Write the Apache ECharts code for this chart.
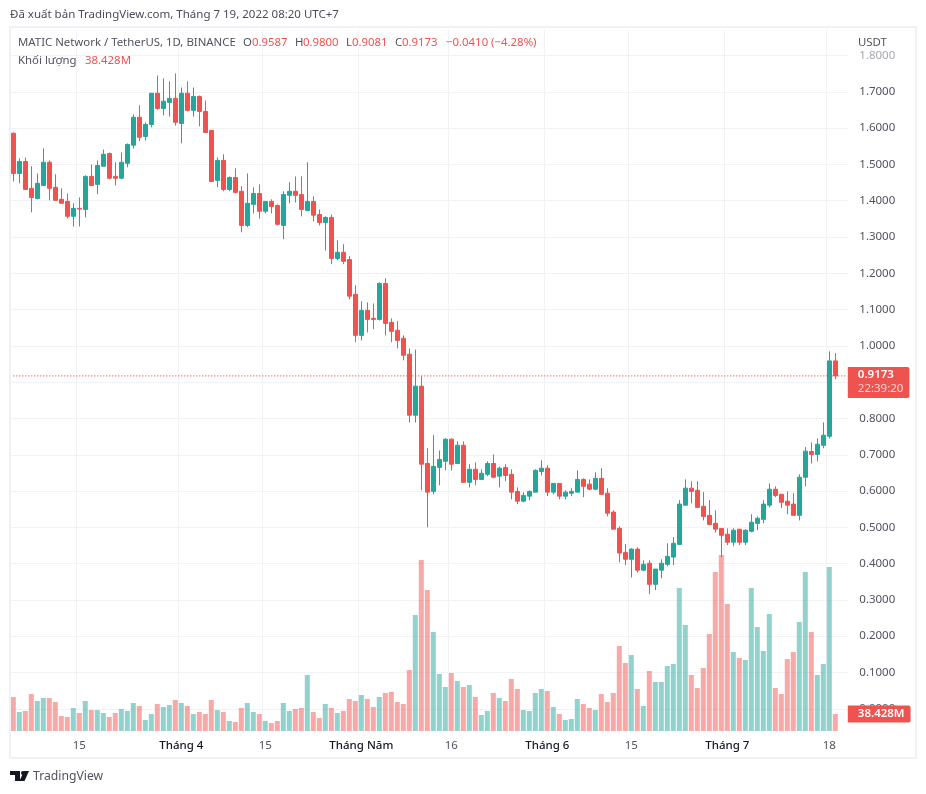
<!DOCTYPE html>
<html>
<head>
<meta charset="utf-8">
<style>html,body{margin:0;background:#fff}#main{width:926px;height:794px}</style>
<script src="https://cdn.jsdelivr.net/npm/echarts@6/dist/echarts.min.js"></script>
</head>
<body>
<div id="main"></div>
<script>
// nến ngày MATIC/USDT, 4/3 -> 19/7/2022
const opens = [
  1.586,1.475,1.508,1.434,1.406,1.442,1.506,1.437,1.404,1.398,
  1.357,1.379,1.376,1.467,1.445,1.495,1.530,1.467,1.462,1.503,
  1.553,1.630,1.577,1.610,1.696,1.654,1.671,1.682,1.613,1.696,
  1.649,1.687,1.646,1.594,1.456,1.511,1.431,1.464,1.426,1.332,
  1.390,1.420,1.371,1.398,1.387,1.332,1.415,1.426,1.417,1.373,
  1.398,1.362,1.340,1.354,1.241,1.258,1.238,1.142,1.029,1.098,
  1.076,1.073,1.172,1.065,1.043,1.021,0.977,0.809,0.889,0.676,
  0.599,0.665,0.682,0.743,0.676,0.726,0.624,0.660,0.632,0.646,
  0.676,0.641,0.665,0.646,0.599,0.572,0.586,0.597,0.654,0.663,
  0.597,0.621,0.586,0.594,0.597,0.632,0.619,0.605,0.635,0.594,
  0.542,0.497,0.431,0.412,0.440,0.382,0.401,0.343,0.382,0.398,
  0.418,0.453,0.561,0.608,0.602,0.558,0.533,0.511,0.497,0.481,
  0.459,0.495,0.459,0.489,0.511,0.522,0.561,0.605,0.591,0.572,
  0.564,0.533,0.638,0.709,0.701,0.726,0.751,0.9587
];
const closes = [
  1.475,1.508,1.431,1.409,1.448,1.506,1.434,1.401,1.393,1.357,
  1.379,1.377,1.467,1.442,1.497,1.528,1.462,1.462,1.506,1.555,
  1.630,1.575,1.610,1.696,1.654,1.674,1.682,1.616,1.696,1.649,
  1.687,1.646,1.588,1.453,1.511,1.431,1.464,1.423,1.332,1.393,
  1.420,1.371,1.398,1.384,1.335,1.417,1.426,1.415,1.376,1.398,
  1.360,1.340,1.354,1.241,1.258,1.233,1.137,1.029,1.098,1.073,
  1.073,1.172,1.062,1.040,1.015,0.974,0.809,0.889,0.674,0.597,
  0.668,0.687,0.743,0.674,0.726,0.624,0.660,0.632,0.649,0.676,
  0.638,0.663,0.643,0.597,0.572,0.588,0.599,0.657,0.663,0.597,
  0.621,0.586,0.597,0.599,0.632,0.613,0.605,0.635,0.591,0.539,
  0.495,0.429,0.412,0.440,0.382,0.398,0.343,0.385,0.401,0.420,
  0.456,0.564,0.608,0.599,0.555,0.530,0.508,0.495,0.478,0.459,
  0.492,0.459,0.492,0.514,0.525,0.564,0.605,0.588,0.569,0.561,
  0.533,0.638,0.710,0.701,0.729,0.754,0.9587,0.9173
];
const lows = [
  1.453,1.448,1.431,1.368,1.404,1.442,1.401,1.401,1.393,1.351,
  1.329,1.329,1.354,1.442,1.418,1.495,1.459,1.442,1.459,1.492,
  1.544,1.564,1.566,1.602,1.651,1.635,1.632,1.607,1.558,1.646,
  1.632,1.605,1.588,1.453,1.437,1.426,1.426,1.420,1.313,1.327,
  1.365,1.351,1.365,1.365,1.332,1.294,1.393,1.395,1.357,1.371,
  1.343,1.332,1.263,1.225,1.236,1.225,1.128,1.010,1.015,1.037,
  1.046,1.070,1.029,1.010,0.993,0.960,0.789,0.789,0.602,0.500,
  0.591,0.616,0.657,0.657,0.674,0.624,0.610,0.616,0.632,0.641,
  0.635,0.610,0.627,0.577,0.564,0.569,0.575,0.597,0.643,0.586,
  0.591,0.577,0.577,0.586,0.597,0.583,0.602,0.602,0.591,0.530,
  0.495,0.404,0.396,0.362,0.376,0.379,0.316,0.327,0.360,0.393,
  0.396,0.453,0.561,0.566,0.555,0.519,0.506,0.486,0.418,0.451,
  0.448,0.451,0.451,0.486,0.492,0.511,0.555,0.583,0.553,0.536,
  0.533,0.519,0.613,0.676,0.682,0.718,0.745,0.9081
];
const highs = [
  1.588,1.517,1.519,1.495,1.475,1.544,1.511,1.473,1.434,1.420,
  1.393,1.409,1.470,1.500,1.511,1.541,1.533,1.506,1.533,1.558,
  1.638,1.663,1.616,1.696,1.745,1.737,1.729,1.751,1.712,1.729,
  1.712,1.690,1.676,1.594,1.519,1.528,1.467,1.489,1.440,1.475,
  1.437,1.445,1.398,1.404,1.390,1.426,1.451,1.467,1.467,1.506,
  1.412,1.376,1.357,1.362,1.291,1.280,1.247,1.167,1.123,1.120,
  1.117,1.175,1.186,1.076,1.068,1.029,0.993,0.990,0.916,0.718,
  0.754,0.712,0.745,0.745,0.737,0.737,0.674,0.679,0.660,0.682,
  0.701,0.668,0.674,0.660,0.610,0.597,0.602,0.660,0.685,0.671,
  0.621,0.621,0.602,0.608,0.657,0.635,0.632,0.652,0.663,0.608,
  0.547,0.503,0.454,0.442,0.445,0.409,0.409,0.385,0.412,0.456,
  0.473,0.575,0.632,0.627,0.627,0.597,0.575,0.547,0.497,0.497,
  0.497,0.495,0.495,0.536,0.530,0.575,0.621,0.613,0.591,0.599,
  0.594,0.646,0.721,0.734,0.745,0.789,0.985,0.980
];
// khối lượng, triệu
const volumes = [
  76.9,42.9,45.2,83.6,67.8,74.6,74.6,65.6,33.9,31.6,
  52.0,40.7,67.8,47.5,47.5,40.7,31.6,40.7,49.7,45.2,
  63.3,56.5,24.9,38.4,61.0,54.3,58.8,70.1,63.3,56.5,
  38.4,42.9,38.4,70.1,47.5,42.9,22.6,20.3,52.0,63.3,
  42.9,38.4,22.6,18.1,22.6,63.3,45.2,49.7,52.0,126.6,
  42.9,29.4,61.0,52.0,40.7,45.2,72.3,67.8,81.4,72.3,
  54.3,76.9,85.9,88.2,65.6,61.0,137.9,262.2,386.5,318.7,
  223.8,128.8,99.5,131.1,113.0,99.5,104.0,76.9,36.2,45.2,
  85.9,74.6,67.8,117.5,94.9,47.5,45.2,85.9,94.9,90.4,
  54.3,38.4,24.9,27.1,72.3,61.0,52.0,47.5,83.6,65.6,
  85.9,192.1,153.7,171.8,94.9,56.5,135.6,110.8,110.8,146.9,
  151.5,323.2,239.6,126.6,97.2,142.4,219.3,359.4,397.8,287.1,
  178.6,165.0,160.5,323.2,235.1,180.8,264.5,97.2,83.6,162.8,
  178.6,246.4,359.4,223.8,126.6,151.5,370.7,38.428
];
const priceTicks = [0,0.1,0.2,0.3,0.4,0.5,0.6,0.7,0.8,0.9,1,1.1,1.2,1.3,1.4,1.5,1.6,1.7,1.8];
const tickSlots = [11,28,42,58,73,89,103,119,136];
const tickLabels = ['15','Tháng 4','15','Tháng Năm','16','Tháng 6','15','Tháng 7','18'];
const lastPrice = 0.9173;
const lastVolume = 38.428;

const upColor = '#26a69a';
const downColor = '#ef5350';
const upVolume = 'rgba(38,166,154,0.5)';
const downVolume = 'rgba(239,83,80,0.5)';
const gridColor = '#f1f2f6';
const textFont = '"Noto Sans", sans-serif';

// 2 ô trống bên phải nến cuối
const categories = [];
for (let i = 0; i < opens.length + 2; i++) {
  const d = new Date(2022, 2, 4 + i);
  categories.push((d.getMonth() + 1) + '/' + d.getDate());
}
const candles = opens.map((o, i) => [o, closes[i], lows[i], highs[i]]);
const volumeBars = volumes.map((v, i) => ({
  value: v,
  itemStyle: { color: closes[i] >= opens[i] ? upVolume : downVolume }
}));

function headerText(x, y, text, color, size) {
  return {
    type: 'text', x: x, y: y, z: 20,
    style: { text: text, fill: color, font: (size || 11.4) + 'px ' + textFont, textVerticalAlign: 'middle' }
  };
}

var myChart = echarts.init(document.getElementById('main'));
myChart.setOption({
  animation: false,
  backgroundColor: '#fff',
  grid: { left: 10.3, top: 29, width: 840, height: 702, containLabel: false },
  xAxis: {
    type: 'category',
    data: categories,
    boundaryGap: true,
    axisLine: { show: false },
    axisTick: { show: false, alignWithLabel: true },
    axisLabel: {
      interval: (i) => tickSlots.includes(i),
      margin: 9,
      fontFamily: textFont,
      fontSize: 11.5,
      formatter: (v, i) => {
        const label = tickLabels[tickSlots.indexOf(i)];
        return label.startsWith('Tháng') ? '{m|' + label + '}' : '{d|' + label + '}';
      },
      rich: {
        m: { color: '#131722', fontFamily: textFont, fontSize: 11.5, fontWeight: 500 },
        d: { color: '#50535e', fontFamily: textFont, fontSize: 11.5 }
      }
    },
    splitLine: { show: true, interval: (i) => tickSlots.includes(i), lineStyle: { color: gridColor, width: 1 } }
  },
  yAxis: [
    {
      type: 'value',
      position: 'right',
      min: -0.0612,
      max: 1.8732,
      axisLine: { show: false },
      axisTick: { show: false, customValues: priceTicks },
      axisLabel: {
        customValues: priceTicks,
        formatter: (v) => v.toFixed(4),
        margin: 9,
        padding: [2, 0, 0, 0],
        // nhãn 1.8000 bị mờ trong ảnh gốc
        color: (v) => (Number(v) >= 1.8 ? '#a6a8b0' : '#50535e'),
        fontFamily: textFont,
        fontSize: 11.5,
        showMinLabel: true,
        showMaxLabel: true
      },
      splitLine: { show: true, lineStyle: { color: gridColor, width: 1 } }
    },
    {
      type: 'value',
      position: 'right',
      min: 0,
      max: 1587,
      axisLine: { show: false },
      axisTick: { show: false },
      axisLabel: { show: false },
      splitLine: { show: false }
    }
  ],
  series: [
    {
      name: 'Khối lượng',
      type: 'bar',
      yAxisIndex: 1,
      barWidth: 5,
      z: 1,
      data: volumeBars,
      markLine: {
        silent: true,
        symbol: 'none',
        animation: false,
        lineStyle: { color: 'transparent', width: 0 },
        data: [{ yAxis: lastVolume }],
        label: {
          position: 'end',
          distance: -2.5,
          formatter: '38.428M',
          color: '#fff',
          fontFamily: textFont,
          fontSize: 11.5,
          fontWeight: 600,
          lineHeight: 14,
          backgroundColor: downColor,
          padding: [1.5, 6, 1.5, 10],
          borderRadius: [0, 2, 2, 0]
        }
      }
    },
    {
      name: 'MATIC',
      type: 'candlestick',
      yAxisIndex: 0,
      barWidth: 5,
      z: 3,
      data: candles,
      itemStyle: {
        color: upColor,
        color0: downColor,
        borderColor: upColor,
        borderColor0: downColor,
        borderWidth: 1
      },
      // chỉ giữ nhãn giá, đường chấm vẽ bằng series line bên dưới
      markLine: {
        silent: true,
        symbol: 'none',
        animation: false,
        lineStyle: { color: 'transparent', width: 0 },
        data: [{ yAxis: lastPrice }],
        label: {
          position: 'end',
          distance: -2.5,
          offset: [0, 7.5],
          formatter: '{a|0.9173}\n{b|22:39:20}',
          backgroundColor: downColor,
          padding: [1, 6, 2, 10],
          borderRadius: [0, 2, 2, 0],
          rich: {
            a: { color: '#fff', fontFamily: textFont, fontSize: 11.5, fontWeight: 600, lineHeight: 14 },
            b: { color: '#fbd5d4', fontFamily: textFont, fontSize: 11.5, lineHeight: 14 }
          }
        }
      }
    },
    {
      name: 'Giá cuối',
      type: 'line',
      yAxisIndex: 0,
      data: categories.map(() => lastPrice),
      symbol: 'none',
      silent: true,
      z: 4,
      lineStyle: { color: downColor, type: [1, 2], width: 1.4 }
    }
  ],
  graphic: [
    // che phần lưới thừa bên phải và khung ngoài
    { type: 'rect', z: 1, shape: { x: 848, y: 29, width: 3, height: 703 }, style: { fill: '#fff' } },
    { type: 'rect', z: 2, shape: { x: 10, y: 27, width: 906, height: 731 }, style: { fill: 'none', stroke: '#eff1f6', lineWidth: 2 } },
    headerText(10, 15, 'Đã xuất bản TradingView.com, Tháng 7 19, 2022 08:20 UTC+7', '#4a4d59', 11.5),
    headerText(18, 42.5, 'MATIC Network / TetherUS, 1D, BINANCE', '#50535e'),
    headerText(243, 42.5, 'O', '#50535e'),
    headerText(252, 42.5, '0.9587', downColor),
    headerText(295, 42.5, 'H', '#50535e'),
    headerText(303, 42.5, '0.9800', downColor),
    headerText(346, 42.5, 'L', '#50535e'),
    headerText(352, 42.5, '0.9081', downColor),
    headerText(395, 42.5, 'C', '#50535e'),
    headerText(402, 42.5, '0.9173', downColor),
    headerText(446, 42.5, '−0.0410 (−4.28%)', downColor),
    headerText(18, 60.5, 'Khối lượng', '#50535e'),
    headerText(85, 60.5, '38.428M', downColor),
    headerText(858, 42.5, 'USDT', '#50535e'),
    headerText(33, 777, 'TradingView', '#50535e', 12.2),
    // logo
    { type: 'polygon', z: 20, shape: { points: [[10,771],[20,771],[20,781],[15,781],[15,775],[10,775]] }, style: { fill: '#131722' } },
    { type: 'circle', z: 20, shape: { cx: 23, cy: 773, r: 2 }, style: { fill: '#131722' } },
    { type: 'polygon', z: 20, shape: { points: [[24,771],[29,771],[24.5,781],[19.5,781]] }, style: { fill: '#131722' } }
  ]
});
</script>
</body>
</html>
